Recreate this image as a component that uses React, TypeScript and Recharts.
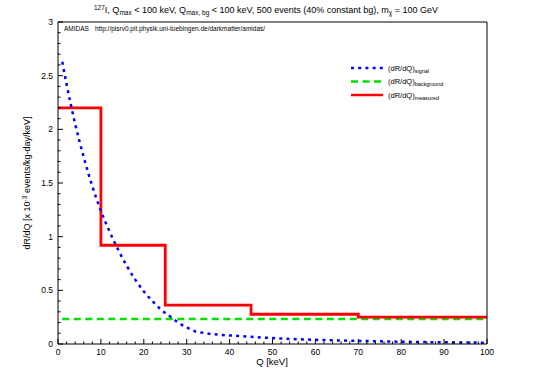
import React from 'react';
import { LineChart, Line, XAxis, YAxis } from 'recharts';

// signal spectrum (x 10^-3 events/kg-day/keV)
const signalQ = [1, 2, 3, 4, 5, 6, 7, 8, 9, 10, 12, 14, 16, 18, 20, 22, 24, 26, 28, 30, 32, 34, 36, 38, 42, 46, 50, 55, 60, 65, 70, 75, 80, 85, 90, 95, 100];
const signalRate = [2.63, 2.42, 2.23, 2.05, 1.89, 1.74, 1.6, 1.47, 1.35, 1.24, 1.05, 0.88, 0.73, 0.6, 0.49, 0.4, 0.32, 0.26, 0.2, 0.155, 0.118, 0.103, 0.092, 0.085, 0.075, 0.064, 0.055, 0.046, 0.039, 0.033, 0.029, 0.025, 0.021, 0.018, 0.016, 0.014, 0.012];

// constant background
const bgQ = [1, 100];
const bgRate = [0.233, 0.233];

// measured histogram: bin edges and rate in each bin (last value repeats to close the step)
const binEdges = [0, 10, 25, 45, 70, 100];
const measuredRate = [2.2, 0.92, 0.363, 0.277, 0.25, 0.25];

const xTicks = Array.from({ length: 51 }, (_, i) => i * 2);
const yTicks = Array.from({ length: 31 }, (_, i) => i / 10);

const signalData = signalQ.map((q, i) => ({ q, v: signalRate[i] }));
const bgData = bgQ.map((q, i) => ({ q, v: bgRate[i] }));
const measuredData = binEdges.map((q, i) => ({ q, v: measuredRate[i] }));

const FONT = '"Liberation Sans", Arial, sans-serif';
const BLUE = '#0000ff';
const GREEN = '#00e000';
const RED = '#ff0000';

const XTick = (props: any) => {
  const { x, y, payload, top } = props;
  const major = payload.value % 10 === 0;
  const len = major ? 5 : 2.5;
  return (
    <g>
      <line x1={x} x2={x} y1={y} y2={top ? y + len : y - len} stroke="#000" strokeWidth={1} />
      {!top && major && (
        <text x={x} y={y + 11} textAnchor="middle" fontSize={8.5} fontFamily={FONT} fill="#000">
          {payload.value}
        </text>
      )}
    </g>
  );
};

const YTick = (props: any) => {
  const { x, y, payload, right } = props;
  const tenths = Math.round(payload.value * 10);
  const major = tenths % 5 === 0;
  const len = major ? 5 : 2.5;
  return (
    <g>
      <line x1={x} x2={right ? x - len : x + len} y1={y} y2={y} stroke="#000" strokeWidth={1} />
      {!right && major && (
        <text x={x - 5} y={y + 3} textAnchor="end" fontSize={8.5} fontFamily={FONT} fill="#000">
          {tenths / 10}
        </text>
      )}
    </g>
  );
};

const legendRows = [
  { name: 'signal', color: BLUE, dash: '3 4.2' },
  { name: 'background', color: GREEN, dash: '7 4.5' },
  { name: 'measured', color: RED, dash: undefined },
];

const App: React.FC = () => {
  return (
    <div style={{ position: 'absolute', left: 0, top: 0, width: 534, height: 374, background: '#fff' }}>
      <LineChart width={534} height={374} margin={{ top: 21, right: 46, bottom: 29, left: 57 }}>
        <XAxis
          dataKey="q"
          type="number"
          domain={[0, 100]}
          ticks={xTicks}
          interval={0}
          height={1}
          tickSize={0}
          tickMargin={0}
          tickLine={false}
          stroke="#000"
          tick={<XTick />}
        />
        <XAxis
          xAxisId="top"
          orientation="top"
          dataKey="q"
          type="number"
          domain={[0, 100]}
          ticks={xTicks}
          interval={0}
          height={1}
          tickSize={0}
          tickMargin={0}
          tickLine={false}
          stroke="#000"
          tick={<XTick top />}
        />
        <YAxis
          type="number"
          domain={[0, 3]}
          ticks={yTicks}
          interval={0}
          width={1}
          tickSize={0}
          tickMargin={0}
          tickLine={false}
          stroke="#000"
          tick={<YTick />}
        />
        <YAxis
          yAxisId="right"
          orientation="right"
          type="number"
          domain={[0, 3]}
          ticks={yTicks}
          interval={0}
          width={1}
          tickSize={0}
          tickMargin={0}
          tickLine={false}
          stroke="#000"
          tick={<YTick right />}
        />
        <Line
          data={bgData}
          dataKey="v"
          type="linear"
          stroke={GREEN}
          strokeWidth={2.5}
          strokeDasharray="7 4.5"
          dot={false}
          isAnimationActive={false}
        />
        <Line
          data={measuredData}
          dataKey="v"
          type="stepAfter"
          stroke={RED}
          strokeWidth={2.8}
          dot={false}
          isAnimationActive={false}
        />
        <Line
          data={signalData}
          dataKey="v"
          type="monotone"
          stroke={BLUE}
          strokeWidth={2.5}
          strokeDasharray="3 4.2"
          dot={false}
          isAnimationActive={false}
        />
      </LineChart>
      <svg
        width={534}
        height={374}
        style={{ position: 'absolute', left: 0, top: 0, pointerEvents: 'none' }}
        fontFamily={FONT}
      >
        <text x={266} y={13} textAnchor="middle" fontSize={9} fill="#000">
          <tspan fontSize={6.5} dy={-3.5}>127</tspan>
          <tspan dy={3.5}>I, Q</tspan>
          <tspan fontSize={6.5} dy={2}>max</tspan>
          <tspan dy={-2}> &lt; 100 keV, Q</tspan>
          <tspan fontSize={6.5} dy={2}>max, bg</tspan>
          <tspan dy={-2}> &lt; 100 keV, 500 events (40% constant bg), m</tspan>
          <tspan fontSize={6.5} dy={2}>χ</tspan>
          <tspan dy={-2}> = 100 GeV</tspan>
        </text>
        <text x={64} y={31} fontSize={6.5} fill="#000">
          AMIDAS
          <tspan dx={6}>http://pisrv0.pit.physik.uni-tuebingen.de/darkmatter/amidas/</tspan>
        </text>
        {legendRows.map((r, i) => {
          const y = 68 + i * 13.5;
          return (
            <g key={r.name}>
              <line x1={351} x2={383} y1={y} y2={y} stroke={r.color} strokeWidth={2.5} strokeDasharray={r.dash} />
              <text x={388} y={y + 2.5} fontSize={7.5} fill="#000">
                (dR/dQ)
                <tspan fontSize={5.5} dy={2}>{r.name}</tspan>
              </text>
            </g>
          );
        })}
        <text x={272} y={365} textAnchor="middle" fontSize={9.5} fill="#000">
          Q [keV]
        </text>
        <text x={30} y={183} textAnchor="middle" fontSize={9} fill="#000" transform="rotate(-90 30 183)">
          dR/dQ [x 10
          <tspan fontSize={6.5} dy={-3.5}>-3</tspan>
          <tspan dy={3.5}> events/kg-day/keV]</tspan>
        </text>
      </svg>
    </div>
  );
};

export default App;
